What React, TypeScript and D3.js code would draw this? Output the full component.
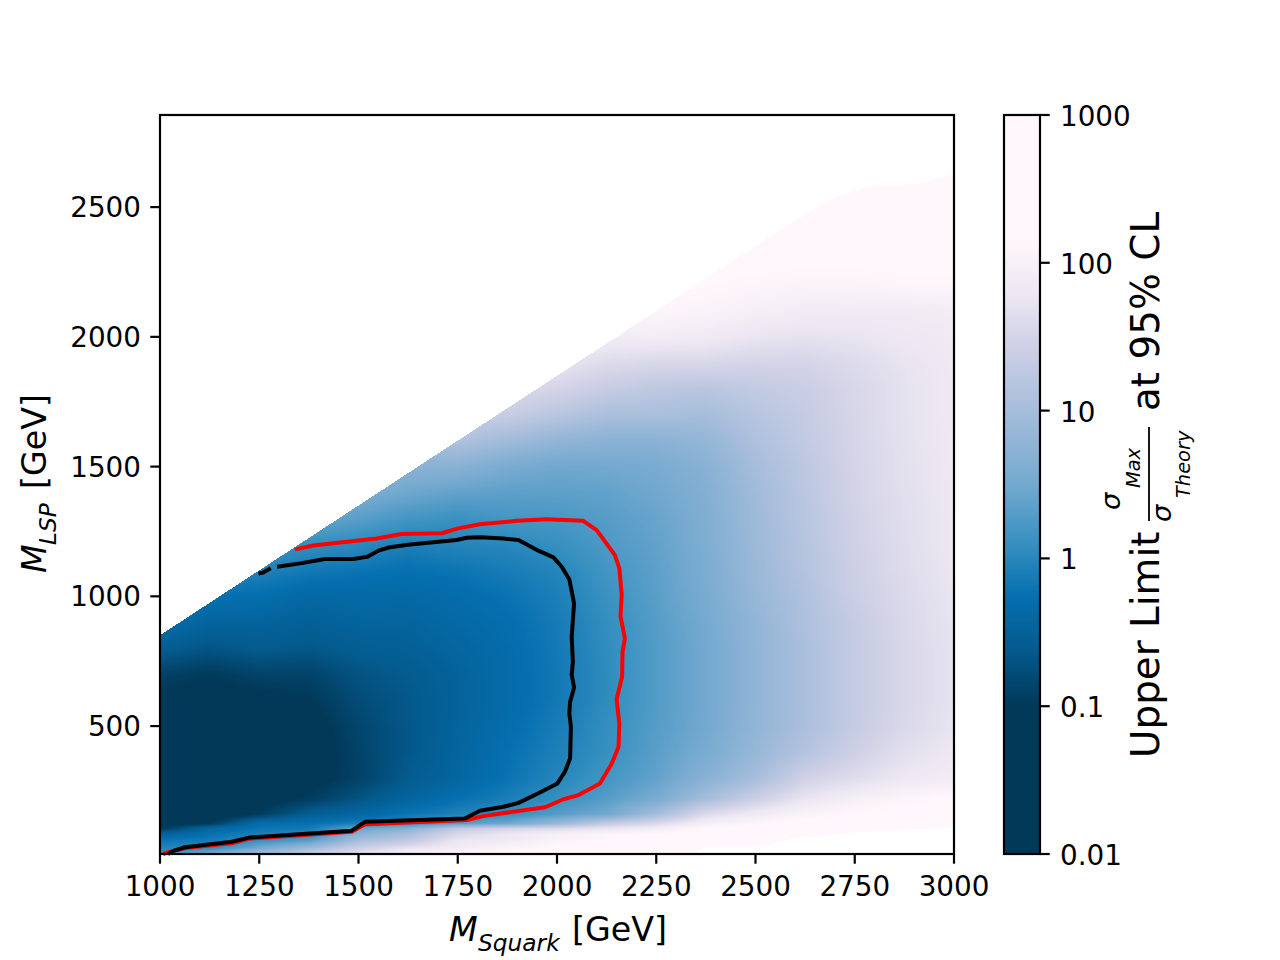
import React, { useMemo } from "react";
import * as d3 from "d3";

// ---------- axis ticks ----------
const xTicks = [1000, 1250, 1500, 1750, 2000, 2250, 2500, 2750, 3000];
const yTicks = [500, 1000, 1500, 2000, 2500];
const cbTicks = [0.01, 0.1, 1, 10, 100, 1000];
const cbTickLabels = ["0.01", "0.1", "1", "10", "100", "1000"];

// ---------- colour bar: log10(value) -> colour ----------
const colorStops = [-1.0, -0.62, -0.25, 0.1, 0.5, 1.0, 1.45, 1.78, 2.15];
const colorValues = ["#023858", "#045a8d", "#0570b0", "#3690c0", "#74a9cf", "#a6bddb", "#d0d1e6", "#ece7f2", "#fff7fb"];

// ---------- grid of log10(upper limit) ----------
const massSquark = [1000, 1125, 1250, 1375, 1500, 1625, 1750, 1875, 2000, 2125, 2250, 2375, 2500, 2625, 2750, 2875, 3000];
const massLSP = [7, 30, 60, 85, 105, 125, 160, 220, 300, 400, 500, 600, 700, 800, 900, 1000, 1100, 1200, 1300, 1400, 1500, 1600, 1700, 1800, 1900, 2000, 2100, 2200, 2300, 2400, 2500, 2640];
const lsp7 = [0.1, 0.6, 1.0, 1.45, 1.75, 2.0, 2.15, 2.2, 2.2, 2.2, 2.2, 2.2, 2.2, 2.2, 2.2, 2.2, 2.2];
const lsp30 = [-0.05, 0.05, 0.5, 0.9, 1.4, 1.7, 1.9, 2.05, 2.15, 2.2, 2.2, 2.2, 2.2, 2.2, 2.2, 2.2, 2.2];
const lsp60 = [-0.2, -0.15, 0.1, 0.3, 1.0, 1.25, 1.75, 1.85, 2.05, 2.15, 2.2, 2.2, 2.2, 2.2, 2.2, 2.2, 2.2];
const lsp85 = [-0.5, -0.25, -0.1, 0.0, 0.7, 1.0, 1.55, 1.75, 1.95, 2.05, 2.15, 2.2, 2.2, 2.2, 2.2, 2.2, 2.2];
const lsp105 = [-1.0, -0.4, -0.2, -0.15, 0.4, 0.7, 1.3, 1.5, 1.6, 1.75, 1.9, 2.15, 2.2, 2.2, 2.2, 2.2, 2.2];
const lsp125 = [-1.1, -1.0, -0.3, -0.25, -0.1, 0.05, 0.3, 0.45, 0.85, 1.3, 1.55, 1.95, 2.1, 2.2, 2.2, 2.2, 2.2];
const lsp160 = [-1.3, -1.2, -0.95, -0.55, -0.4, -0.2, -0.05, 0.1, 0.3, 0.5, 1.0, 1.6, 1.85, 2.05, 2.15, 2.2, 2.2];
const lsp220 = [-1.3, -1.3, -1.15, -0.95, -0.7, -0.45, -0.25, -0.1, 0.1, 0.3, 0.55, 1.0, 1.4, 1.75, 1.95, 2.08, 2.18];
const lsp300 = [-1.3, -1.3, -1.25, -1.1, -0.9, -0.6, -0.42, -0.22, -0.02, 0.18, 0.38, 0.7, 1.0, 1.45, 1.62, 1.8, 1.9];
const lsp400 = [-1.3, -1.3, -1.3, -1.15, -0.88, -0.65, -0.45, -0.25, -0.08, 0.1, 0.33, 0.55, 0.85, 1.15, 1.43, 1.66, 1.8];
const lsp500 = [-1.3, -1.3, -1.3, -1.1, -0.85, -0.65, -0.46, -0.3, -0.12, 0.08, 0.3, 0.5, 0.8, 1.05, 1.33, 1.56, 1.74];
const lsp600 = [-1.05, -1.1, -1.05, -1.0, -0.78, -0.64, -0.48, -0.33, -0.16, 0.05, 0.28, 0.5, 0.78, 1.05, 1.32, 1.54, 1.72];
const lsp700 = [-0.9, -0.98, -0.88, -0.88, -0.7, -0.6, -0.47, -0.33, -0.16, 0.05, 0.28, 0.5, 0.78, 1.05, 1.32, 1.54, 1.72];
const lsp800 = [-0.55, -0.68, -0.6, -0.65, -0.56, -0.52, -0.43, -0.31, -0.15, 0.06, 0.28, 0.5, 0.78, 1.05, 1.32, 1.54, 1.72];
const lsp900 = [-0.3, -0.45, -0.46, -0.52, -0.45, -0.45, -0.37, -0.28, -0.13, 0.08, 0.3, 0.52, 0.8, 1.08, 1.34, 1.56, 1.73];
const lsp1000 = [-0.1, -0.25, -0.28, -0.38, -0.36, -0.38, -0.31, -0.22, -0.09, 0.12, 0.33, 0.55, 0.85, 1.1, 1.39, 1.58, 1.75];
const lsp1100 = [0.0, 0.0, -0.05, -0.15, -0.2, -0.25, -0.2, -0.12, -0.02, 0.18, 0.35, 0.58, 0.88, 1.15, 1.42, 1.61, 1.77];
const lsp1200 = [0.2, 0.2, 0.2, 0.08, 0.02, -0.08, -0.02, 0.0, 0.1, 0.25, 0.38, 0.6, 0.9, 1.17, 1.44, 1.63, 1.79];
const lsp1300 = [0.4, 0.4, 0.4, 0.45, 0.33, 0.18, 0.12, 0.2, 0.22, 0.3, 0.42, 0.62, 0.92, 1.2, 1.46, 1.64, 1.79];
const lsp1400 = [0.6, 0.6, 0.6, 0.65, 0.6, 0.47, 0.38, 0.35, 0.35, 0.38, 0.48, 0.65, 0.95, 1.22, 1.49, 1.66, 1.8];
const lsp1500 = [0.8, 0.8, 0.8, 0.8, 0.8, 0.72, 0.7, 0.55, 0.48, 0.5, 0.55, 0.7, 1.0, 1.25, 1.5, 1.68, 1.8];
const lsp1600 = [1.1, 1.1, 1.1, 1.1, 1.1, 1.0, 1.1, 0.95, 0.8, 0.72, 0.72, 0.82, 1.08, 1.3, 1.51, 1.69, 1.81];
const lsp1700 = [1.4, 1.4, 1.4, 1.4, 1.4, 1.4, 1.4, 1.35, 1.2, 1.05, 1.05, 1.0, 1.18, 1.33, 1.53, 1.7, 1.82];
const lsp1800 = [1.6, 1.6, 1.6, 1.6, 1.6, 1.6, 1.6, 1.6, 1.5, 1.35, 1.25, 1.2, 1.3, 1.38, 1.54, 1.7, 1.82];
const lsp1900 = [1.75, 1.75, 1.75, 1.75, 1.75, 1.75, 1.75, 1.75, 1.75, 1.6, 1.55, 1.55, 1.5, 1.5, 1.6, 1.73, 1.83];
const lsp2000 = [1.95, 1.95, 1.95, 1.95, 1.95, 1.95, 1.95, 1.95, 1.95, 1.9, 1.9, 1.85, 1.75, 1.7, 1.74, 1.8, 1.85];
const lsp2100 = [2.15, 2.15, 2.15, 2.15, 2.15, 2.15, 2.15, 2.15, 2.15, 2.15, 2.1, 2.05, 1.95, 1.9, 1.88, 1.88, 1.9];
const lsp2200 = [2.2, 2.2, 2.2, 2.2, 2.2, 2.2, 2.2, 2.2, 2.2, 2.2, 2.15, 2.15, 2.1, 2.05, 2.05, 2.1, 2.1];
const lsp2300 = [2.2, 2.2, 2.2, 2.2, 2.2, 2.2, 2.2, 2.2, 2.2, 2.2, 2.2, 2.2, 2.2, 2.2, 2.2, 2.2, 2.2];
const lsp2400 = lsp2300;
const lsp2500 = lsp2300;
const lsp2640 = lsp2300;
const heatRows = [lsp7, lsp30, lsp60, lsp85, lsp105, lsp125, lsp160, lsp220, lsp300, lsp400, lsp500, lsp600, lsp700, lsp800, lsp900, lsp1000, lsp1100, lsp1200, lsp1300, lsp1400, lsp1500, lsp1600, lsp1700, lsp1800, lsp1900, lsp2000, lsp2100, lsp2200, lsp2300, lsp2400, lsp2500, lsp2640];

// ---------- extent of the scanned region ----------
const upperEdgeX = [1000, 2579, 2695, 2796, 2909, 3000];
const upperEdgeY = [850, 2429, 2535, 2585, 2588, 2630];
const lowerEdgeX = [1000, 2340, 2370, 2520, 2590, 2750, 3000];
const lowerEdgeY = [0, 0, 35, 38, 65, 90, 111];

// ---------- exclusion contours ----------
const redX = [1340, 1386, 1546, 1609, 1710, 1751, 1806, 1899, 1974, 2066, 2100, 2146, 2157, 2163, 2160, 2171, 2165, 2164, 2150, 2157, 2155, 2138, 2108, 2054, 2016, 1970, 1915, 1814, 1773, 1516, 1483, 1227, 1181, 1067, 1025, 1008];
const redY = [1181, 1196, 1223, 1240, 1243, 1262, 1278, 1291, 1297, 1291, 1255, 1159, 1108, 1005, 924, 838, 786, 690, 603, 510, 420, 356, 279, 234, 218, 187, 176, 153, 138, 122, 93, 67, 48, 31, 16, 7];
const blackStubX = [1248, 1260, 1279];
const blackStubY = [1088, 1092, 1108];
const blackX = [1295, 1353, 1416, 1487, 1521, 1550, 1579, 1630, 1747, 1773, 1806, 1865, 1903, 1953, 1991, 2012, 2031, 2043, 2037, 2040, 2037, 2043, 2033, 2031, 2035, 2033, 2020, 2001, 1953, 1903, 1865, 1806, 1768, 1516, 1483, 1227, 1181, 1063, 1034, 1020];
const blackY = [1114, 1127, 1144, 1144, 1152, 1176, 1189, 1200, 1217, 1226, 1228, 1223, 1217, 1176, 1150, 1114, 1065, 973, 844, 748, 697, 649, 594, 549, 497, 376, 324, 279, 241, 204, 189, 174, 144, 131, 97, 71, 54, 33, 19, 7];

const FONT = "'DejaVu Sans', sans-serif";
const L = 160, R = 954, T = 115, B = 854;
const CBL = 1004, CBR = 1040;
const SW = 2.2;

const xScale = d3.scaleLinear().domain([1000, 3000]).range([L, R]);
const yScale = d3.scaleLinear().domain([7, 2855]).range([B, T]);
const cbScale = d3.scaleLog().domain([0.01, 1000]).range([B, T]);
const colorScale = d3.scaleLinear<string>().domain(colorStops).range(colorValues).clamp(true);
const xIdx = d3.scaleLinear().domain(massSquark).range(massSquark.map((_, i) => i)).clamp(true);
const yIdx = d3.scaleLinear().domain(massLSP).range(massLSP.map((_, i) => i)).clamp(true);
const upperEdge = d3.scaleLinear().domain(upperEdgeX).range(upperEdgeY);
const lowerEdge = d3.scaleLinear().domain(lowerEdgeX).range(lowerEdgeY);

function sampleField(mx: number, my: number): number {
  const fx = xIdx(mx), fy = yIdx(my);
  const i = Math.min(Math.floor(fx), massSquark.length - 2);
  const j = Math.min(Math.floor(fy), massLSP.length - 2);
  const u = fx - i, v = fy - j;
  const a = heatRows[j], b = heatRows[j + 1];
  return (a[i] * (1 - u) + a[i + 1] * u) * (1 - v) + (b[i] * (1 - u) + b[i + 1] * u) * v;
}

function renderHeat(): string {
  const w = R - L, h = B - T;
  const canvas = document.createElement("canvas");
  canvas.width = w; canvas.height = h;
  const ctx = canvas.getContext("2d")!;
  const img = ctx.createImageData(w, h);
  const lutN = 1024;
  const lut = d3.range(lutN).map((k) => d3.rgb(colorScale(-1.2 + (3.5 * k) / (lutN - 1))));
  for (let py = 0; py < h; py++) {
    const my = yScale.invert(T + py + 0.5);
    for (let px = 0; px < w; px++) {
      const mx = xScale.invert(L + px + 0.5);
      const o = (py * w + px) * 4;
      if (my > upperEdge(mx) || my < lowerEdge(mx)) { img.data[o + 3] = 0; continue; }
      const k = Math.max(0, Math.min(lutN - 1, Math.round(((sampleField(mx, my) + 1.2) / 3.5) * (lutN - 1))));
      const c = lut[k];
      img.data[o] = c.r; img.data[o + 1] = c.g; img.data[o + 2] = c.b; img.data[o + 3] = 255;
    }
  }
  ctx.putImageData(img, 0, 0);
  return canvas.toDataURL("image/png");
}

const lineGen = d3.line<[number, number]>().x((d) => xScale(d[0])).y((d) => yScale(d[1]));
const zipXY = (xs: number[], ys: number[]) => xs.map((x, i) => [x, ys[i]] as [number, number]);

function RotText({ x, y, size, italic, children }: any) {
  return (
    <text transform={`translate(${x},${y}) rotate(-90)`} fontSize={size} fontFamily={FONT} fontStyle={italic ? "italic" : "normal"} fill="#000">
      {children}
    </text>
  );
}

export default function App() {
  const heat = useMemo(renderHeat, []);
  const cbRows = d3.range(T, B);
  return (
    <svg width={1280} height={960} style={{ position: "fixed", left: 0, top: 0, display: "block" }} xmlns="http://www.w3.org/2000/svg">
      <rect width={1280} height={960} fill="#fff" />
      <image href={heat} x={L} y={T} width={R - L} height={B - T} preserveAspectRatio="none" />
      <path d={lineGen(zipXY(redX, redY)) || ""} fill="none" stroke="#ff0000" strokeWidth={4} strokeLinejoin="round" />
      <path d={lineGen(zipXY(blackStubX, blackStubY)) || ""} fill="none" stroke="#000" strokeWidth={4} strokeLinejoin="round" />
      <path d={lineGen(zipXY(blackX, blackY)) || ""} fill="none" stroke="#000" strokeWidth={4} strokeLinejoin="round" />
      <rect x={L} y={T} width={R - L} height={B - T} fill="none" stroke="#000" strokeWidth={SW} />
      {xTicks.map((t) => (
        <g key={t}>
          <line x1={xScale(t)} x2={xScale(t)} y1={B} y2={B + 9.7} stroke="#000" strokeWidth={SW} />
          <text x={xScale(t)} y={896} textAnchor="middle" fontSize={27.8} fontFamily={FONT} fill="#000">{t}</text>
        </g>
      ))}
      {yTicks.map((t) => (
        <g key={t}>
          <line x1={L - 9.7} x2={L} y1={yScale(t)} y2={yScale(t)} stroke="#000" strokeWidth={SW} />
          <text x={141} y={yScale(t) + 10} textAnchor="end" fontSize={27.8} fontFamily={FONT} fill="#000">{t}</text>
        </g>
      ))}
      <text x={449} y={941} fontSize={33.3} fontFamily={FONT} fontStyle="italic">M</text>
      <text x={478} y={951} fontSize={23.3} fontFamily={FONT} fontStyle="italic">Squark</text>
      <text x={572} y={941} fontSize={33.3} fontFamily={FONT}>[GeV]</text>
      <RotText x={46} y={573} size={33.3} italic>M</RotText>
      <RotText x={56} y={545} size={23.3} italic>LSP</RotText>
      <RotText x={46} y={489} size={33.3}>[GeV]</RotText>

      {cbRows.map((py) => (
        <rect key={py} x={CBL} y={py} width={CBR - CBL} height={1.2} fill={colorScale(Math.log10(cbScale.invert(py + 0.5)))} />
      ))}
      <rect x={CBL} y={T} width={CBR - CBL} height={B - T} fill="none" stroke="#000" strokeWidth={SW} />
      {cbTicks.map((t, i) => (
        <g key={t}>
          <line x1={CBR} x2={CBR + 9.7} y1={cbScale(t)} y2={cbScale(t)} stroke="#000" strokeWidth={SW} />
          <text x={1060} y={cbScale(t) + 11} fontSize={27.8} fontFamily={FONT} fill="#000">{cbTickLabels[i]}</text>
        </g>
      ))}
      <RotText x={1159} y={758} size={38.9}>Upper Limit</RotText>
      <RotText x={1159} y={411} size={38.9}>at 95% CL</RotText>
      <RotText x={1120} y={510} size={27.2} italic>σ</RotText>
      <RotText x={1140} y={488} size={19.4} italic>Max</RotText>
      <line x1={1149} x2={1149} y1={427} y2={521} stroke="#000" strokeWidth={1.8} />
      <RotText x={1171} y={522} size={27.2} italic>σ</RotText>
      <RotText x={1190} y={498} size={19.4} italic>Theory</RotText>
    </svg>
  );
}
